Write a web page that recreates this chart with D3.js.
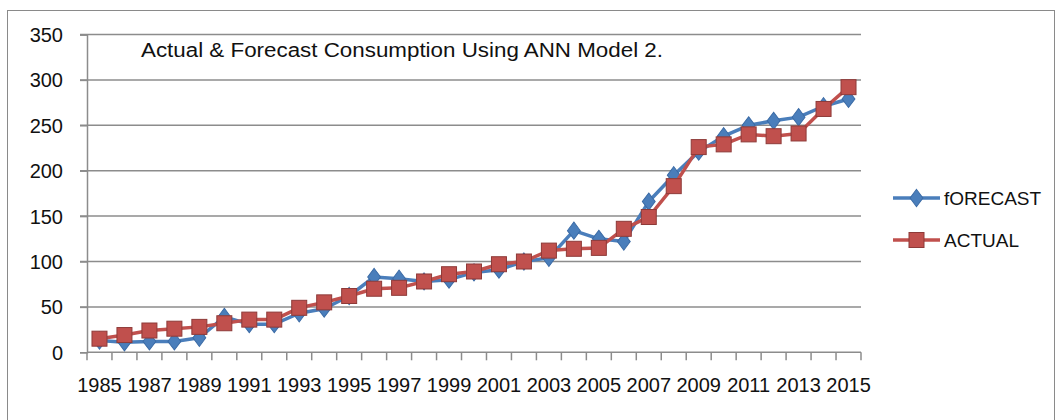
<!DOCTYPE html>
<html><head><meta charset="utf-8">
<script src="https://cdn.jsdelivr.net/npm/d3@7/dist/d3.min.js"></script>
<style>body{margin:0;background:#fff}svg{display:block}text{font-family:"Liberation Sans",Arial,sans-serif;fill:#111}</style>
</head><body><svg id="c" width="1057" height="420"></svg>
<script>
const years = d3.range(1985, 2016).map(String);
const forecast = [13,11,12,12,16,39,31,31,43,48,62,83,81,78,80,88,91,100,104,134,125,122,166,195,221,238,250,255,259,271,279];
const actual = [15,19,24,26,28,32,36,36,49,55,62,70,71,78,86,89,97,100,112,114,115,136,149,183,226,229,240,238,241,268,292];
const yTicks = [0,50,100,150,200,250,300,350];
const xLabels = years.filter((d,i)=>i%2===0);
const seriesNames = ["fORECAST","ACTUAL"];
const title = "Actual & Forecast Consumption Using ANN Model 2.";

const svg = d3.select("#c");
// outer frame
svg.append("rect").attr("x",7.5).attr("y",10.5).attr("width",1047).attr("height",430)
  .attr("fill","none").attr("stroke","#8a8a8a").attr("stroke-width",1);

const x = d3.scaleBand().domain(years).range([87,861]).padding(0);
const y = d3.scaleLinear().domain([0,350]).range([352.3,34.5]);
const cx = d => x(d)+x.bandwidth()/2;

// gridlines
svg.append("g").selectAll("line").data(yTicks.filter(t=>t>0)).join("line")
  .attr("x1",80).attr("x2",861).attr("y1",d=>y(d)).attr("y2",d=>y(d))
  .attr("stroke","#8c8c8c").attr("stroke-width",1.5);

// y axis
const yAxis = svg.append("g").attr("transform","translate(87,0)")
  .call(d3.axisLeft(y).tickValues(yTicks).tickSize(7).tickPadding(17));
yAxis.select(".domain").attr("stroke","#8c8c8c").attr("stroke-width",1.5);
yAxis.selectAll(".tick line").attr("stroke","#8c8c8c").attr("stroke-width",1.5);
yAxis.selectAll("text").style("font-size","20px").attr("fill","#111").attr("dy","0.35em");

// x axis
const xg = svg.append("g");
xg.append("line").attr("x1",87).attr("x2",861).attr("y1",y(0)).attr("y2",y(0))
  .attr("stroke","#8c8c8c").attr("stroke-width",1.5);
xg.selectAll("line.tk").data(years.concat(["end"])).join("line").attr("class","tk")
  .attr("x1",d=>d==="end"?861:x(d)).attr("x2",d=>d==="end"?861:x(d))
  .attr("y1",y(0)).attr("y2",y(0)+8).attr("stroke","#8c8c8c").attr("stroke-width",1.5);
xg.selectAll("text").data(xLabels).join("text")
  .attr("x",d=>cx(d)).attr("y",392).attr("text-anchor","middle")
  .style("font-size","20px").text(d=>d);

// title
svg.append("text").attr("x",141).attr("y",57).style("font-size","20px")
  .attr("textLength",522).attr("lengthAdjust","spacingAndGlyphs").text(title);

const line = d3.line().x((d,i)=>cx(years[i])).y(d=>y(d));
const blue = "#4a7ebb", red = "#c0504d";

// forecast
svg.append("path").datum(forecast).attr("d",line).attr("fill","none")
  .attr("stroke",blue).attr("stroke-width",3.5).attr("stroke-linejoin","round");
const diamond = d3.symbol().type(d3.symbolDiamond).size(85);
svg.append("g").selectAll("path").data(forecast).join("path")
  .attr("d",diamond).attr("transform",(d,i)=>`translate(${cx(years[i])},${y(d)}) scale(1.3,1)`)
  .attr("fill",blue).attr("stroke","#3a6aa5").attr("stroke-width",0.8);

// actual
svg.append("path").datum(actual).attr("d",line).attr("fill","none")
  .attr("stroke",red).attr("stroke-width",3.5).attr("stroke-linejoin","round");
const sq = 15;
svg.append("g").selectAll("rect").data(actual).join("rect")
  .attr("x",(d,i)=>cx(years[i])-sq/2).attr("y",d=>y(d)-sq/2)
  .attr("width",sq).attr("height",sq)
  .attr("fill",red).attr("stroke","#8e3a38").attr("stroke-width",1);

// legend
const lg = svg.append("g");
const legY = [198,240];
[blue,red].forEach((c,i)=>{
  lg.append("line").attr("x1",893).attr("x2",940).attr("y1",legY[i]).attr("y2",legY[i])
    .attr("stroke",c).attr("stroke-width",3.5);
  if(i===0){
    lg.append("path").attr("d",diamond).attr("transform",`translate(916.5,${legY[i]}) scale(1.3,1)`)
      .attr("fill",blue).attr("stroke","#3a6aa5").attr("stroke-width",0.8);
  } else {
    lg.append("rect").attr("x",916.5-sq/2).attr("y",legY[i]-sq/2).attr("width",sq).attr("height",sq)
      .attr("fill",red).attr("stroke","#8e3a38").attr("stroke-width",1);
  }
  lg.append("text").attr("x",944).attr("y",legY[i]).attr("dy","0.35em")
    .style("font-size","19px").text(seriesNames[i]);
});
</script></body></html>
